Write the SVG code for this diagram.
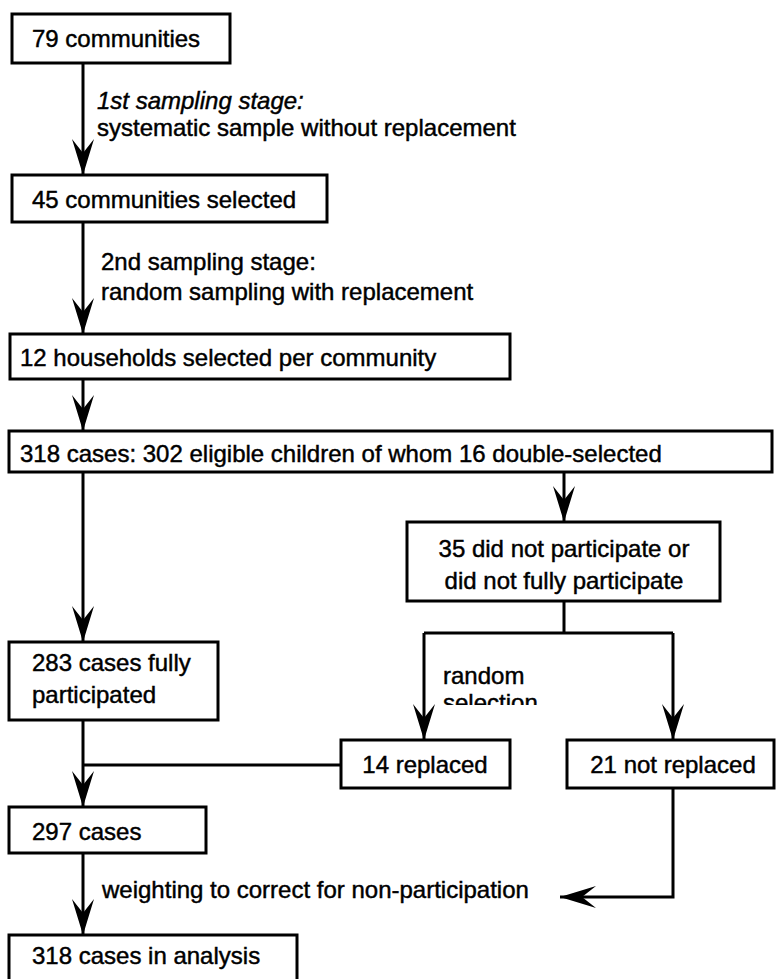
<svg xmlns="http://www.w3.org/2000/svg" width="777" height="979" viewBox="0 0 777 979">
<style>
.box{fill:#fff;stroke:#000;stroke-width:3}
.t{font-family:"Liberation Sans",Arial,Helvetica,sans-serif;font-size:24px;fill:#000;stroke:#000;stroke-width:0.45}
.c{text-anchor:middle}
.ln{fill:none;stroke:#000;stroke-width:3}
.arr{marker-end:url(#ah)}
</style>
<defs>
<marker id="ah" markerUnits="userSpaceOnUse" viewBox="-36 -12 37 24" refX="0" refY="0" markerWidth="37" markerHeight="24" orient="auto" overflow="visible">
<path d="M0,0 L-36,-11 L-22,0 L-36,11 Z" fill="#000"/>
</marker>
<clipPath id="selclip"><rect x="430" y="640" width="200" height="65"/></clipPath>
</defs>
<rect width="777" height="979" fill="#fff"/>
<g id="connectors">
<path class="ln arr" d="M83,63 V175"/>
<path class="ln arr" d="M83,222 V334"/>
<path class="ln arr" d="M83,379 V431"/>
<path class="ln arr" d="M83,472 V642"/>
<path class="ln arr" d="M564,472 V522"/>
<path class="ln" d="M564,601 V633 M424,633 H673"/>
<path class="ln arr" d="M424,633 V740"/>
<path class="ln arr" d="M673,633 V740"/>
<path class="ln arr" d="M83,720 V807"/>
<path class="ln" d="M341,765 H83"/>
<path class="ln arr" d="M673,788 V897 H560"/>
<path class="ln arr" d="M83,853 V935"/>
</g>
<g id="labels">
<text class="t" x="97" y="109" font-style="italic">1st sampling stage:</text>
<text class="t" x="97" y="136">systematic sample without replacement</text>
<text class="t" x="101" y="270">2nd sampling stage:</text>
<text class="t" x="101" y="300">random sampling with replacement</text>
<text class="t" x="443" y="684">random</text>
<text class="t" x="443" y="711" clip-path="url(#selclip)">selection</text>
<text class="t" x="102" y="898">weighting to correct for non-participation</text>
</g>
<g id="n1"><rect class="box" x="12" y="14" width="218" height="49"/><text class="t" x="32" y="47">79 communities</text></g>
<g id="n2"><rect class="box" x="12" y="175" width="315" height="47"/><text class="t" x="32" y="208">45 communities selected</text></g>
<g id="n3"><rect class="box" x="10" y="334" width="500" height="45"/><text class="t" x="20" y="366">12 households selected per community</text></g>
<g id="n4"><rect class="box" x="9" y="431" width="763" height="41"/><text class="t" x="20" y="462">318 cases: 302 eligible children of whom 16 double-selected</text></g>
<g id="n5"><rect class="box" x="407" y="522" width="313" height="79"/><text class="t c" x="564" y="557">35 did not participate or</text><text class="t c" x="564" y="589">did not fully participate</text></g>
<g id="n6"><rect class="box" x="9" y="642" width="209" height="78"/><text class="t" x="32" y="671">283 cases fully</text><text class="t" x="32" y="703">participated</text></g>
<g id="n7"><rect class="box" x="341" y="740" width="169" height="48"/><text class="t c" x="425" y="773">14 replaced</text></g>
<g id="n8"><rect class="box" x="567" y="740" width="207" height="48"/><text class="t c" x="673" y="773">21 not replaced</text></g>
<g id="n9"><rect class="box" x="9" y="807" width="197" height="46"/><text class="t" x="32" y="840">297 cases</text></g>
<g id="n10"><rect class="box" x="9" y="935" width="288" height="60"/><text class="t" x="32" y="964">318 cases in analysis</text></g>
</svg>
